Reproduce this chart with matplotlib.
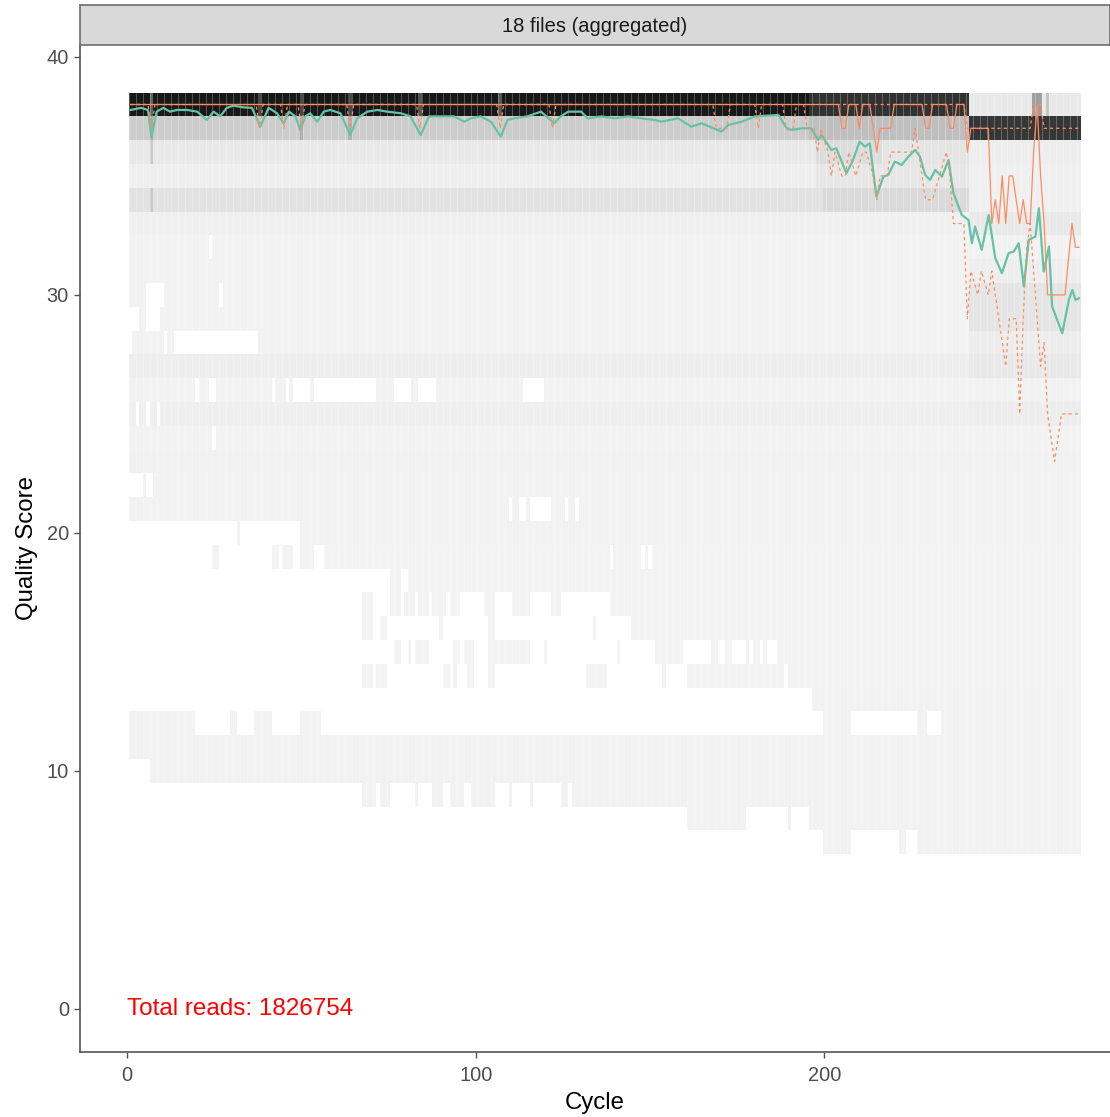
import numpy as np
import matplotlib
matplotlib.use("Agg")
import matplotlib.pyplot as plt
from matplotlib.colors import LinearSegmentedColormap

plt.rcParams['font.family'] = ['Liberation Sans', 'DejaVu Sans']

strip_label = "18 files (aggregated)"
total_reads = 1826754
n_cycles = 273

# quality score rows, top to bottom, with their base tile shade (share of max count)
quality_rows = list(range(38, 6, -1))
row_shade = [0.9, 0.17, 0.05, 0.025, 0.08, 0.02, 0.015, 0.015,
             0.015, 0.015, 0.015, 0.03, 0.015, 0.025, 0.015, 0.018,
             0.012, 0.015, 0.012, 0.01, 0.01, 0.01, 0.01, 0.01,
             0.01, 0.012, 0.012, 0.015, 0.015, 0.012, 0.012, 0.012]

# cycle ranges (inclusive) where each row has reads
row_segments = [
    [(1, 273)],                                   # 38
    [(1, 273)],                                   # 37
    [(1, 273)],                                   # 36
    [(1, 273)],                                   # 35
    [(1, 273)],                                   # 34
    [(1, 273)],                                   # 33
    [(1, 23), (25, 273)],                         # 32
    [(1, 273)],                                   # 31
    [(1, 5), (11, 26), (28, 273)],                # 30
    [(4, 5), (10, 273)],                          # 29
    [(2, 10), (12, 13), (38, 273)],               # 28
    [(1, 273)],                                   # 27
    [(1, 19), (21, 23), (26, 41), (43, 45), (47, 47), (53, 53),
     (72, 76), (82, 83), (89, 113), (120, 273)],  # 26
    [(1, 2), (4, 5), (7, 8), (10, 273)],          # 25
    [(1, 24), (26, 273)],                         # 24
    [(1, 273)],                                   # 23
    [(5, 5), (8, 273)],                           # 22
    [(1, 109), (111, 112), (115, 115), (122, 125), (127, 128), (130, 273)],  # 21
    [(32, 32), (50, 273)],                        # 20
    [(25, 26), (42, 43), (45, 47), (50, 53), (57, 138), (140, 147),
     (149, 149), (151, 273)],                     # 19
    [(76, 78), (81, 273)],                        # 18
    [(68, 70), (76, 78), (80, 82), (84, 86), (88, 91), (93, 95),
     (103, 105), (111, 115), (122, 124), (139, 273)],  # 17
    [(68, 70), (73, 74), (90, 90), (104, 105), (134, 134), (145, 273)],  # 16
    [(77, 78), (81, 81), (83, 86), (94, 95), (97, 99), (104, 111),
     (112, 115), (120, 120), (141, 141), (152, 159), (168, 169),
     (172, 173), (178, 178), (180, 181), (183, 183), (187, 273)],  # 15
    [(68, 70), (72, 74), (91, 92), (94, 94), (98, 99), (104, 105),
     (132, 137), (154, 154), (161, 171), (172, 173), (174, 180),
     (181, 188), (190, 273)],                     # 14
    [(197, 273)],                                 # 13
    [(1, 19), (30, 31), (37, 41), (50, 55), (200, 207), (227, 229),
     (234, 273)],                                 # 12
    [(1, 273)],                                   # 11
    [(7, 273)],                                   # 10
    [(68, 71), (73, 75), (83, 83), (88, 90), (93, 96), (99, 105),
     (110, 110), (116, 116), (125, 126), (128, 142), (143, 144),
     (145, 273)],                                 # 9
    [(161, 163), (164, 166), (167, 170), (171, 172), (173, 177),
     (190, 190), (196, 273)],                     # 8
    [(200, 207), (222, 223), (227, 273)],         # 7
]

# local shade changes (quality, first cycle, last cycle, shade)
patch_q = [38, 38, 38, 38, 37, 37, 36, 36, 36, 35, 35, 34, 34,
           33, 31, 30, 29, 28, 27, 25,
           38, 38, 38, 38, 38, 38, 37, 37, 37, 36, 34]
patch_c0 = [196, 242, 260, 264, 196, 242, 198, 217, 242, 198, 242, 200, 242,
            242, 242, 242, 242, 242, 242, 242,
            7, 38, 50, 64, 84, 107, 7, 50, 64, 7, 7]
patch_c1 = [241, 273, 262, 264, 241, 273, 216, 241, 273, 241, 273, 241, 273,
            273, 273, 273, 273, 273, 273, 273,
            7, 38, 50, 64, 84, 107, 7, 50, 64, 7, 7]
patch_shade = [0.8, 0.05, 0.35, 0.2, 0.22, 0.78, 0.1, 0.07, 0.03, 0.06, 0.02, 0.11, 0.02,
               0.05, 0.03, 0.07, 0.07, 0.035, 0.05, 0.035,
               0.6, 0.7, 0.7, 0.7, 0.65, 0.65, 0.32, 0.28, 0.28, 0.18, 0.18]

# mean quality per cycle
mean_cycle = [1, 4, 6, 7, 8.5, 10.4, 12.3, 14.3, 17.2, 20.1, 22.9, 24.8, 26.7, 28.6,
              30.5, 33.4, 35.8, 38.2, 40.6, 43, 44.9, 46.4, 48.3, 49.7, 51.1, 52.5,
              54.5, 56.4, 58.3, 61.2, 64, 66, 68.9, 71.8, 74.6, 78.5, 81.3, 84.2,
              86.6, 90, 93.8, 96.7, 98.6, 101.4, 104.3, 107.2, 109.1, 111, 114.8,
              118.7, 122.5, 124.4, 126.5, 130.2, 132.1, 136, 139.8, 143.7, 147.5,
              151.3, 153.3, 158, 161.8, 164.8, 170.5, 172.4, 176.3, 180.1, 186.8,
              189.2, 190.5, 193.4, 196.2, 198.2, 199.1, 202, 203.4, 206.3, 208.2,
              210.1, 211.6, 213, 214.9, 216.9, 218.3, 220.2, 222.1, 224.1, 226,
              227.4, 228.9, 230.3, 231.8, 233.7, 235.6, 237, 239.4, 241.3, 242.3,
              243.2, 245.1, 247.1, 249, 250.9, 252.8, 254.3, 255.7, 257.2, 258.6,
              260.5, 261.5, 262.9, 264.4, 265.3, 268.2, 270.1, 271.1, 272, 273]
mean_q = [37.77, 37.86, 37.77, 36.65, 37.7, 37.86, 37.7, 37.77, 37.77, 37.7, 37.35,
          37.7, 37.5, 37.86, 37.95, 37.88, 37.86, 37.07, 37.86, 37.63, 37.21, 37.7,
          37.5, 36.93, 37.5, 37.63, 37.28, 37.7, 37.77, 37.63, 36.72, 37.42, 37.7,
          37.77, 37.7, 37.63, 37.5, 36.72, 37.5, 37.5, 37.5, 37.28, 37.42, 37.5,
          37.28, 36.65, 37.35, 37.42, 37.5, 37.7, 37.21, 37.5, 37.7, 37.7, 37.42,
          37.5, 37.42, 37.5, 37.42, 37.35, 37.28, 37.42, 37.07, 37.21, 36.86, 37.14,
          37.28, 37.5, 37.56, 37.0, 36.93, 37.0, 37.0, 36.51, 36.72, 36.09, 36.16,
          35.11, 35.67, 36.44, 36.23, 36.37, 34.13, 34.97, 35.04, 35.6, 35.46, 35.81,
          36.09, 35.81, 35.04, 34.83, 35.25, 34.97, 35.67, 34.27, 33.36, 33.15, 32.17,
          32.87, 31.89, 33.36, 31.54, 30.91, 31.75, 31.82, 32.17, 30.35, 32.31, 32.45,
          33.64, 30.98, 32.03, 29.51, 28.39, 29.79, 30.21, 29.79, 29.86]

# median quality per cycle
median_cycle = [1, 204, 205, 206, 207, 209, 210, 211, 213, 214, 215, 216, 219, 220,
                228, 229, 230, 231, 235, 236, 237, 238, 240, 241, 242, 247, 248, 249,
                250, 251, 252, 253, 254, 255, 256, 257, 258, 259, 260, 261, 262, 263,
                264, 269, 271, 272, 273]
median_q = [38, 38, 37, 37, 38, 38, 37, 38, 38, 37, 36, 37, 37, 38,
            38, 37, 37, 38, 38, 37, 37, 38, 38, 36, 37, 37, 33, 34,
            33, 35, 33, 35, 35, 34, 33, 34, 33, 33, 36, 38, 35, 33,
            30, 30, 33, 32, 32]

# lower quartile per cycle
q25_cycle = [1, 6, 7, 8, 37, 38, 39, 44, 45, 46, 49, 50, 51, 63, 64, 65, 83, 84, 85,
             106, 107, 108, 121, 122, 123, 168, 169, 172, 173, 180, 181, 182, 188,
             189, 191, 192, 194, 195, 197, 198, 199, 201, 202, 203, 205, 206, 207,
             209, 211, 212, 214, 215, 216, 218, 219, 225, 226, 227, 229, 231, 233,
             235, 236, 237, 239, 240, 241, 242, 244, 245, 247, 248, 250, 252, 253,
             255, 256, 257, 258, 259, 260, 261, 262, 263, 264, 266, 268, 270, 273]
q25_q = [38, 38, 37, 38, 38, 37, 38, 38, 37, 38, 38, 37, 38, 38, 37, 38, 38, 37, 38,
         38, 37, 38, 38, 37, 38, 38, 37, 37, 38, 38, 37, 38, 38,
         37, 37, 38, 38, 37, 37, 36, 37, 36, 35, 36, 35, 35, 36,
         35, 36, 36, 35, 34, 35, 35, 36, 36, 37, 36, 34, 34, 35,
         36, 35, 33, 33, 33, 29, 31, 30, 31, 30, 31, 29, 27, 29,
         29, 25, 29, 32, 33, 31, 29, 27, 28, 25, 23, 25, 25, 25]

# upper quartile per cycle
q75_cycle = [1, 240, 241, 259, 260, 262, 263, 273]
q75_q = [38, 38, 37, 37, 38, 38, 37, 37]

# build the tile grid, bottom row first
rows_up = quality_rows[::-1]
grid = np.full((len(rows_up), n_cycles), np.nan)
for q, shade, segs in zip(quality_rows, row_shade, row_segments):
    i = rows_up.index(q)
    for c0, c1 in segs:
        grid[i, c0 - 1:c1] = shade
for q, c0, c1, shade in zip(patch_q, patch_c0, patch_c1, patch_shade):
    i = rows_up.index(q)
    part = grid[i, c0 - 1:c1]
    grid[i, c0 - 1:c1] = np.where(np.isnan(part), np.nan, shade)

x_edges = np.arange(n_cycles + 1) + 0.5
y_edges = np.array(rows_up + [rows_up[-1] + 1]) - 0.5

tile_cmap = LinearSegmentedColormap.from_list("tiles", ["#F5F5F5", "#000000"])
tile_cmap.set_bad((1, 1, 1, 0))

W, H = 1110, 1117
fig = plt.figure(figsize=(W / 100, H / 100), dpi=100)
ax = fig.add_axes([80 / W, 1 - 1052 / H, 1030 / W, (1052 - 45) / H])

ax.pcolormesh(x_edges, y_edges, grid, cmap=tile_cmap, vmin=0, vmax=1,
              antialiased=False, zorder=1)
# faint seams between neighbouring cycle columns
ax.vlines(x_edges[::2], y_edges[0], y_edges[-1], colors="white", alpha=0.3,
          linewidth=0.6, zorder=2)

ax.plot(mean_cycle, mean_q, color="#66C2A5", lw=1.6, zorder=3)
ax.plot(q25_cycle, q25_q, color="#FC8D62", lw=0.9, ls=(0, (2.5, 2.5)), zorder=4)
ax.plot(median_cycle, median_q, color="#FC8D62", lw=0.9, zorder=4)
ax.plot(q75_cycle, q75_q, color="#FC8D62", lw=0.9, ls=(0, (2.5, 2.5)), zorder=4)

ax.text(0, 0, f"Total reads: {total_reads}", color="#FF0000", fontsize=17.5,
        ha="left", va="center", zorder=5)

ax.set_xlim(-13.5, 281.9)
ax.set_ylim(-1.81, 40.5)
ax.set_xticks([0, 100, 200])
ax.set_yticks([0, 10, 20, 30, 40])
ax.set_xlabel("Cycle", fontsize=17.3, color="black", labelpad=5)
ax.set_ylabel("Quality Score", fontsize=17.3, color="black", labelpad=6)

for side in ("top", "right"):
    ax.spines[side].set_visible(False)
for side in ("left", "bottom"):
    ax.spines[side].set_color("#555555")
    ax.spines[side].set_linewidth(1.2)
ax.tick_params(direction="out", length=4, width=1.0, color="#555555",
               labelcolor="#4D4D4D", labelsize=14.4, pad=4)
ax.tick_params(axis="x", pad=6)

# facet strip on top
strip = fig.add_axes([80 / W, 1 - 45 / H, 1030 / W, 40 / H])
strip.set_facecolor("#D9D9D9")
strip.set_xticks([])
strip.set_yticks([])
for s in strip.spines.values():
    s.set_color("#6E6E6E")
    s.set_linewidth(1.2)
strip.text(0.5, 0.45, strip_label, ha="center", va="center",
           fontsize=14.5, color="#1A1A1A", transform=strip.transAxes)

fig.savefig("out.png", dpi=100, facecolor="white")
